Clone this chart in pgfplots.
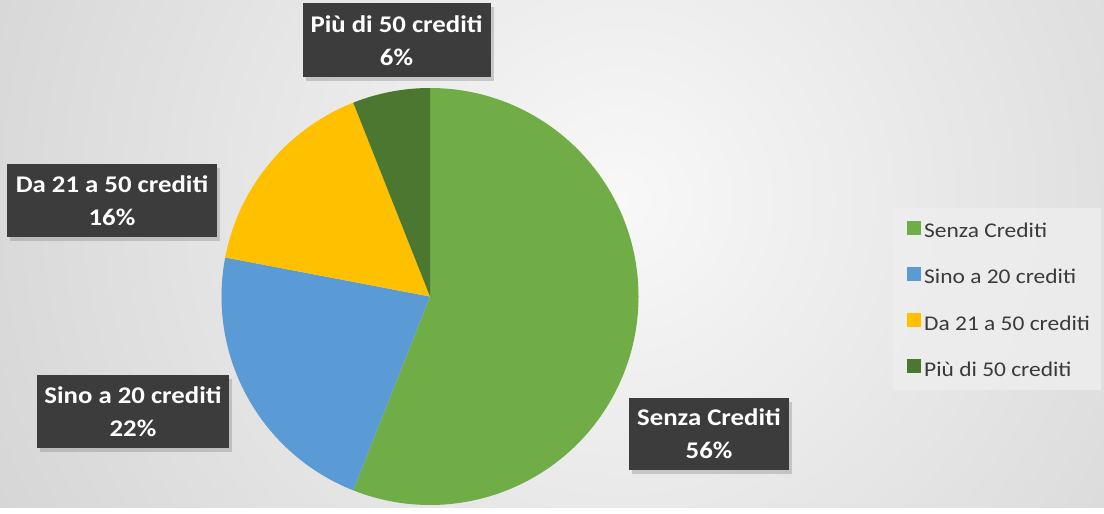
\documentclass[border=0pt]{standalone}
\usepackage{pgfplots}
\pgfplotsset{compat=1.18}
\usepackage{pgfplotstable}
\usepackage{fontspec}
\setmainfont{Carlito}[FakeStretch=1.12]
\usetikzlibrary{shadows}

\definecolor{cSenza}{HTML}{70AD47}
\definecolor{cSino}{HTML}{5B9BD5}
\definecolor{cDa}{HTML}{FFC000}
\definecolor{cPiu}{HTML}{4B7731}
\definecolor{boxbg}{HTML}{3C3C3C}
\definecolor{legtext}{HTML}{3A3A3A}
\definecolor{bgin}{HTML}{F8F8F8}
\definecolor{bgout}{HTML}{B8B8B8}
\definecolor{legbg}{HTML}{EEEEEE}

\tikzset{lbl/.style={fill=boxbg, text=white, align=center, inner sep=0pt,
    font=\fontsize{24}{33}\selectfont\bfseries,
    drop shadow={shadow xshift=3bp, shadow yshift=-4bp, opacity=0.35}}}

% share of students (%)
\pgfplotstableread{
key   value
senza 56
sino  22
da    16
piu   6
}\piedata

\begin{document}
\begin{tikzpicture}
% slice end angles, clockwise from 12 o'clock
\pgfplotstablegetelem{0}{value}\of\piedata \let\vA\pgfplotsretval
\pgfplotstablegetelem{1}{value}\of\piedata \let\vB\pgfplotsretval
\pgfplotstablegetelem{2}{value}\of\piedata \let\vC\pgfplotsretval
\pgfplotstablegetelem{3}{value}\of\piedata \let\vD\pgfplotsretval
\pgfmathsetmacro\aA{90-3.6*\vA}
\pgfmathsetmacro\aB{\aA-3.6*\vB}
\pgfmathsetmacro\aC{\aB-3.6*\vC}
\pgfmathsetmacro\aD{\aC-3.6*\vD}
\def\R{208.5bp}
\begin{axis}[
  width=1104bp, height=507bp, scale only axis,
  xmin=0, xmax=1104, ymin=0, ymax=507, y dir=reverse,
  hide axis, clip=false,
  legend image code/.code={\fill[#1, draw=none] (0bp,-2bp) rectangle (14bp,12bp);},
  legend style={at={(axis cs:907,220.6)}, anchor=north west,
    draw=none, fill=none, inner sep=0pt, row sep=24.1bp, column sep=3bp,
    font=\fontsize{21}{24}\selectfont, text=legtext,
    nodes={inner sep=0pt, text height=15bp, text depth=5bp}},
  legend cell align=left,
]
% background
\begin{scope}
  \clip (axis cs:0,0) rectangle (axis cs:1104,507);
  \shade[inner color=bgin, outer color=bgout] (axis cs:620,200) circle[radius=1300bp];
\end{scope}
\fill[legbg, opacity=0.8] (axis cs:893,208) rectangle (axis cs:1101,390);

% pie slices
\fill[cSenza] (axis cs:430,296.5) -- ++(90:\R) arc[start angle=90, end angle=\aA, radius=\R] -- cycle;
\fill[cSino] (axis cs:430,296.5) -- ++(\aA:\R) arc[start angle=\aA, end angle=\aB, radius=\R] -- cycle;
\fill[cDa] (axis cs:430,296.5) -- ++(\aB:\R) arc[start angle=\aB, end angle=\aC, radius=\R] -- cycle;
\fill[cPiu] (axis cs:430,296.5) -- ++(\aC:\R) arc[start angle=\aC, end angle=\aD, radius=\R] -- cycle;

\addlegendimage{fill=cSenza}\addlegendentry{Senza Crediti}
\addlegendimage{fill=cSino}\addlegendentry{Sino a 20 crediti}
\addlegendimage{fill=cDa}\addlegendentry{Da 21 a 50 crediti}
\addlegendimage{fill=cPiu}\addlegendentry{Più di 50 crediti}

% data labels
\node[lbl, minimum width=188bp, minimum height=74bp] at (axis cs:396.5,40.5) {Più di 50 crediti\\6\%};
\node[lbl, minimum width=210bp, minimum height=73bp] at (axis cs:112,200.5) {Da 21 a 50 crediti\\16\%};
\node[lbl, minimum width=192bp, minimum height=73bp] at (axis cs:133,411.5) {Sino a 20 crediti\\22\%};
\node[lbl, minimum width=160bp, minimum height=72bp] at (axis cs:709,434) {Senza Crediti\\56\%};
\end{axis}
\end{tikzpicture}
\end{document}
